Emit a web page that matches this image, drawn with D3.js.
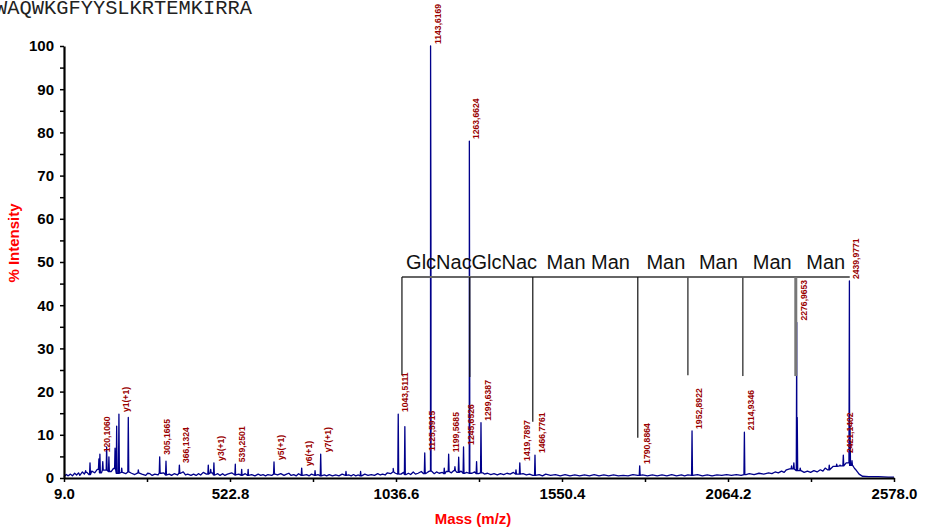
<!DOCTYPE html>
<html>
<head>
<meta charset="utf-8">
<script src="https://cdn.jsdelivr.net/npm/d3@7"></script>
<style>
  html, body { margin: 0; padding: 0; background: #fff; }
  svg { display: block; font-family: Arial, "Liberation Sans", sans-serif; }
</style>
</head>
<body>
<svg id="chart" width="932" height="530"></svg>
<script>
const TITLE = "WAQWKGFYYSLKRTEMKIRRA";
const X_TICKS = [9.0, 522.8, 1036.6, 1550.4, 2064.2, 2578.0];

// [m/z, % intensity]
const peaks = [
  [76, 1.7], [89.5, 3.5], [117, 4.4], [120.106, 5.5], [129, 3.8], [141, 7.2], [148, 4.9],
  [167, 6.9], [172, 12], [179, 14.8], [187.6, 2.3], [208, 14], [239, 1.9],
  [305.17, 4.9], [324.7, 3.9], [366.13, 3], [455.6, 3], [463, 2], [473, 3.5],
  [539.25, 3.2], [559, 2], [579, 2], [659, 3.7], [744.7, 2.3], [786, 1.7], [803.5, 5.5],
  [881.8, 1.5], [927, 1.5], [1028, 2.2], [1043.51, 14.8], [1064, 11.9], [1125.59, 5.8],
  [1143.62, 100], [1144.8, 56], [1186, 2.3], [1199.57, 5.5], [1219, 2.6], [1230.6, 4.8],
  [1245.65, 7.2], [1263.66, 78], [1264.8, 22], [1286, 3.8], [1299.64, 12.8], [1408, 1.9],
  [1419.79, 3.5], [1466.78, 5.3], [1790.89, 2.8], [1952.89, 10.9], [2114.93, 10.6],
  [2261, 2.8], [2268, 3.5], [2276.97, 36], [2278.5, 14], [2287.8, 2.3], [2377.6, 3],
  [2400.6, 3.2], [2411, 3], [2421.14, 5.3], [2439.98, 45.6], [2442, 12], [2448, 4]
];

// background noise level [m/z, % intensity]
const baseline = [
  [9,0.3],[16,0.8],[22,0.5],[29,0.9],[35,0.5],[42,1.1],[48,0.7],[54,1.2],[58,0.6],[66,1.4],
  [72,0.9],[80,1.3],[86,0.8],[95,1.6],[104,1.2],[112,2.0],[125,1.2],[133,1.8],[155,1.5],
  [162,2.2],[175,1.1],[190,1.3],[200,1.0],[210,1.4],[218,1.1],[228,0.8],[238,1.2],[250,0.9],
  [262,0.6],[268,1.1],[275,1.0],[282,0.6],[290,0.9],[300,0.7],[310,1.1],[318,1.2],[327,0.7],
  [335,0.9],[342,0.6],[350,1.0],[360,0.7],[370,1.1],[378,1.4],[385,0.7],[392,0.9],[402,0.6],
  [410,0.9],[418,0.6],[425,1.0],[432,0.7],[440,1.3],[450,0.9],[468,1.2],[476,0.7],[485,1.0],
  [492,0.6],[500,1.0],[507,0.6],[515,0.9],[528,1.2],[540,0.7],[550,0.9],[560,0.6],[570,1.0],
  [580,0.6],[590,0.8],[600,0.5],[610,0.9],[618,0.6],[625,0.8],[633,0.5],[640,0.8],[652,0.6],
  [662,0.9],[670,0.7],[680,1.0],[690,0.6],[698,0.9],[705,1.1],[712,0.6],[720,0.8],[728,0.5],
  [735,1.0],[748,0.6],[760,0.8],[768,0.5],[775,0.9],[785,0.6],[795,0.8],[805,0.5],[815,0.7],
  [822,0.5],[830,0.8],[840,0.5],[850,0.7],[860,0.5],[870,0.9],[880,0.6],[890,0.7],[898,0.5],
  [905,0.8],[912,0.5],[920,0.7],[930,0.5],[940,0.9],[950,0.6],[960,0.8],[970,0.6],[980,1.0],
  [988,0.7],[995,0.9],[1003,0.7],[1010,1.2],[1020,1.0],[1028,1.4],[1035,1.1],[1052,0.9],
  [1060,1.3],[1068,0.8],[1075,1.1],[1082,0.8],[1090,1.4],[1097,0.9],[1105,1.1],[1115,1.5],
  [1122,1.0],[1132,1.2],[1140,1.6],[1155,1.0],[1162,1.4],[1170,1.1],[1180,1.3],[1188,1.0],
  [1192,1.5],[1208,1.2],[1215,1.7],[1225,1.3],[1238,1.6],[1250,1.1],[1255,1.3],[1272,1.1],
  [1280,1.4],[1292,1.0],[1305,1.2],[1310,0.9],[1320,1.1],[1330,0.8],[1340,1.0],[1350,0.7],
  [1360,1.0],[1370,0.8],[1380,1.1],[1390,0.9],[1400,1.3],[1412,0.9],[1430,1.0],[1440,0.7],
  [1450,0.9],[1460,0.6],[1480,0.8],[1490,0.5],[1500,0.9],[1515,0.6],[1530,0.8],[1545,0.5],
  [1560,0.8],[1575,0.5],[1590,0.7],[1605,0.5],[1620,0.7],[1635,0.5],[1650,0.8],[1665,0.5],
  [1680,0.7],[1695,0.5],[1710,0.7],[1725,0.5],[1740,0.6],[1755,0.5],[1770,0.8],[1785,0.6],
  [1800,0.7],[1815,0.5],[1830,0.7],[1845,0.5],[1860,0.7],[1875,0.5],[1890,0.8],[1905,0.5],
  [1920,0.7],[1930,0.5],[1940,0.7],[1955,0.6],[1970,0.8],[1985,0.5],[2000,0.7],[2015,0.5],
  [2030,0.7],[2045,0.6],[2060,0.8],[2075,0.6],[2090,0.8],[2105,0.6],[2120,0.8],[2130,1.0],
  [2145,0.8],[2160,1.1],[2175,0.9],[2190,1.2],[2200,1.0],[2210,1.4],[2220,1.2],[2230,1.6],
  [2238,1.3],[2245,1.9],[2255,2.1],[2290,1.7],[2300,1.3],[2310,1.6],[2320,1.3],[2330,1.7],
  [2340,1.4],[2350,1.9],[2358,1.6],[2365,2.3],[2372,1.9],[2390,2.7],[2416,2.8],[2430,3.5],
  [2450,2.9],[2456,2.2],[2460,1.9],[2466,1.3],[2470,0.9],[2476,0.6],[2480,0.4],[2500,0.3],
  [2530,0.3],[2560,0.2],[2578,0.2]
];

// peak annotations: m/z of the labelled peak and its text
const labelMass = [120.106, 179, 305.17, 366.13, 473, 539.25, 659, 744.7, 803.5, 1043.51,
  1125.59, 1143.62, 1199.57, 1245.65, 1263.66, 1299.64, 1419.79, 1466.78, 1790.89,
  1952.89, 2114.93, 2276.97, 2421.14, 2439.98];
const labelText = ["120,1060", "y1(+1)", "305,1665", "366,1324", "y3(+1)", "539,2501", "y5(+1)",
  "y6(+1)", "y7(+1)", "1043,5111", "1125,5915", "1143,6169", "1199,5685", "1245,6526",
  "1263,6624", "1299,6387", "1419,7897", "1466,7761", "1790,8864", "1952,8922", "2114,9346",
  "2276,9653", "2421,1402", "2439,9771"];

// glycan ladder: step positions, lower end of each tick, and residue names
const ladderMass = [1055, 1265, 1460, 1785, 1940, 2110, 2274, 2441];
const ladderLow = [23.8, 23.4, 13, 9.3, 23.8, 23.6, 23.6];
const ladderLevel = 46.5;
const ladderNames = ["GlcNac", "GlcNac", "Man Man", "Man", "Man", "Man", "Man"];

const svg = d3.select("#chart");
const margin = { left: 64, right: 38, top: 46, bottom: 52 };
const width = 932, height = 530;

const x = d3.scaleLinear().domain([9, 2578]).range([margin.left, width - margin.right]);
const y = d3.scaleLinear().domain([0, 100]).range([height - margin.bottom, margin.top]);

svg.append("text")
  .attr("x", -5).attr("y", 14)
  .attr("font-family", "'Liberation Mono', 'Courier New', monospace")
  .attr("font-size", 20.4)
  .attr("fill", "#222")
  .text(TITLE);

// spectrum as one profile path
const baseBisect = d3.bisector((d) => d[0]).center;
const footLevel = (m) => baseline[baseBisect(baseline, m)][1];
const profile = baseline.slice();
for (const [m, v] of peaks) {
  const f = footLevel(m);
  profile.push([m - 1.4, f], [m, v], [m + 1.4, f]);
}
profile.sort((a, b) => a[0] - b[0]);

svg.append("path")
  .datum(profile)
  .attr("fill", "none")
  .attr("stroke", "#00008b")
  .attr("stroke-width", 1.3)
  .attr("stroke-linejoin", "round")
  .attr("d", d3.line().x((d) => x(d[0])).y((d) => y(d[1])));

// glycan ladder
const ladder = svg.append("g");
ladder.append("line")
  .attr("x1", x(ladderMass[0])).attr("x2", x(ladderMass[ladderMass.length - 1]))
  .attr("y1", y(ladderLevel)).attr("y2", y(ladderLevel))
  .attr("stroke", "#666").attr("stroke-width", 2);
ladder.selectAll("line.step")
  .data(ladderLow)
  .join("line")
  .attr("class", "step")
  .attr("x1", (d, i) => x(ladderMass[i])).attr("x2", (d, i) => x(ladderMass[i]))
  .attr("y1", y(ladderLevel)).attr("y2", (d) => y(d))
  .attr("stroke", (d, i) => (i < 4 ? "#111" : i < 6 ? "#555" : "#777"))
  .attr("stroke-width", (d, i) => (i < 4 ? 1.2 : i < 6 ? 1.6 : 3));
ladder.selectAll("text")
  .data(ladderNames)
  .join("text")
  .attr("x", (d, i) => (x(ladderMass[i]) + x(ladderMass[i + 1])) / 2 + 3)
  .attr("y", y(ladderLevel) - 8)
  .attr("text-anchor", "middle")
  .attr("font-size", 20)
  .attr("fill", "#111")
  .text((d) => d);

// peak labels
const peakHeight = new Map(peaks.map((p) => [p[0], p[1]]));
svg.append("g")
  .selectAll("text")
  .data(labelMass)
  .join("text")
  .attr("transform", (m) => `translate(${x(m) + 10},${y(peakHeight.get(m)) - 2}) rotate(-90)`)
  .attr("font-size", 8.6)
  .attr("font-weight", "bold")
  .attr("fill", "#990000")
  .text((m, i) => labelText[i]);

// axes
const xAxis = svg.append("g")
  .attr("transform", `translate(0,${y(0)})`)
  .call(d3.axisBottom(x).tickValues(X_TICKS).tickFormat(d3.format(".1f")).tickSize(4).tickSizeOuter(0).tickPadding(6));
svg.append("g")
  .attr("transform", `translate(0,${y(0)})`)
  .call(d3.axisBottom(x).tickValues(d3.pairs(X_TICKS).map(([a, b]) => (a + b) / 2)).tickFormat("").tickSize(4).tickSizeOuter(0))
  .select(".domain").remove();
const yAxis = svg.append("g")
  .attr("transform", `translate(${margin.left},0)`)
  .call(d3.axisLeft(y).tickValues(d3.range(0, 101, 5)).tickFormat((d) => (d % 10 === 0 ? d : "")).tickSize(4).tickSizeOuter(0).tickPadding(6));

for (const g of [xAxis, yAxis]) {
  g.selectAll("text").attr("font-size", 15).attr("font-weight", "bold").attr("fill", "#000")
    .attr("font-family", "Arial, 'Liberation Sans', sans-serif");
  g.select(".domain").attr("stroke", "#000").attr("stroke-width", 2.2);
}
svg.selectAll(".tick line").attr("stroke", "#000").attr("stroke-width", 1.5);

svg.append("text")
  .attr("x", 473).attr("y", 524)
  .attr("text-anchor", "middle")
  .attr("font-size", 15).attr("font-weight", "bold").attr("fill", "#ff0000")
  .text("Mass (m/z)");
svg.append("text")
  .attr("transform", `translate(19,243) rotate(-90)`)
  .attr("text-anchor", "middle")
  .attr("font-size", 15).attr("font-weight", "bold").attr("fill", "#ff0000")
  .text("% Intensity");
</script>
</body>
</html>
